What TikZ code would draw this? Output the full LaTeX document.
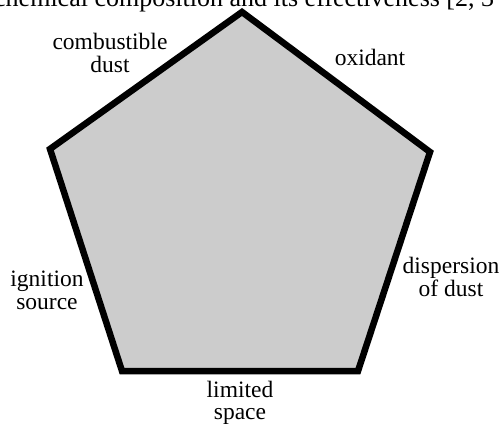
\documentclass[tikz,border=0pt]{standalone}
\usepackage{fontspec}
\setmainfont{Liberation Serif}
\usetikzlibrary{positioning}
\definecolor{pentfill}{HTML}{CCCCCC}
\tikzset{
  edge/.style={draw=black, line width=6.5pt, fill=pentfill, line join=miter},
  lbl/.style={align=center, inner sep=0pt, anchor=base, font=\fontsize{23.5}{23}\selectfont}
}
\begin{document}
\begin{tikzpicture}[x=1pt, y=-1pt]
  \clip (0,0) rectangle (503,424);
  % pentagon corners
  \coordinate (top) at (242,12);
  \coordinate (right) at (430,152);
  \coordinate (bright) at (358,371);
  \coordinate (bleft) at (122,371);
  \coordinate (left) at (50,149);
  \draw[edge] (top) -- (right) -- (bright) -- (bleft) -- (left) -- cycle;
  % labels (anchor = baseline of last line)
  \node[lbl] (dust) at (110,72) {combustible\\dust};
  \node[lbl] (oxid) at (370,65) {oxidant};
  \node[lbl] (disp) at (451,296) {dispersion\\of dust};
  \node[lbl] (ign) at (47,309) {ignition\\source};
  \node[lbl, font=\fontsize{23.5}{22}\selectfont] (space) at (240,419) {limited\\space};
  \node[anchor=base west, inner sep=0pt, font=\fontsize{26}{26}\selectfont] (caption) at (-6,6) {chemical composition and its effectiveness [2, 3};
\end{tikzpicture}
\end{document}
